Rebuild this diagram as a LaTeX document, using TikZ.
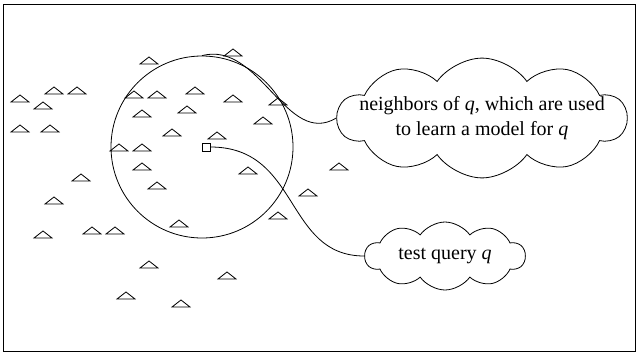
\documentclass[tikz,border=0pt]{standalone}
\usepackage{fontspec}
\setmainfont{Liberation Serif}
\usetikzlibrary{shapes.symbols}

\begin{document}
\begin{tikzpicture}[
  x=1pt, y=-1pt, line width=0.8pt,
  font=\fontsize{20}{25}\selectfont,
  sample/.style={line join=miter},
  bubble/.style={draw, cloud, cloud ignores aspect, cloud puff arc=110, align=center, inner sep=0pt},
  link/.style={draw}
]
\useasboundingbox (0,0) rectangle (637,356);
\draw[line width=1pt] (3.5,4.5) rectangle (635.5,351.5);

% training samples
\foreach \x/\y in {149/64, 54/94, 77/94, 20/102, 43/109, 20/132, 50/132, 134/98,
  157/98, 195/94, 233/102, 278/105, 142/117, 187/113, 263/124, 172/136, 217/139,
  119/151, 142/151, 142/170, 248/174, 81/181, 157/189, 308/196, 233/56, 339/170,
  54/204, 43/238, 92/234, 115/234, 179/227, 278/219, 149/268, 227/279, 126/299, 181/307}
  \draw[sample] (\x-9,\y) -- (\x,\y-7) -- (\x+9,\y) -- cycle;

\node[draw, circle, minimum size=182pt, inner sep=0pt] (nbhd) at (202,147) {};
\node[draw, minimum size=8pt, inner sep=0pt] (q) at (206,147) {};

\node[bubble, cloud puffs=10, inner xsep=-20pt, inner ysep=5.5pt] (nbcloud) at (482,118)
  {neighbors of \textit{q}, which are used\\to learn a model for \textit{q}};
\node[bubble, cloud puffs=10, minimum width=160pt, minimum height=68pt] (qcloud) at (445,256)
  {test query \textit{q}};

\draw[link] (nbhd.north) .. controls +(58,-15) and +(-50,30) .. (nbcloud.west);
\draw[link] (q.east) .. controls +(90,0) and +(-80,0) .. (qcloud.west);
\end{tikzpicture}
\end{document}
